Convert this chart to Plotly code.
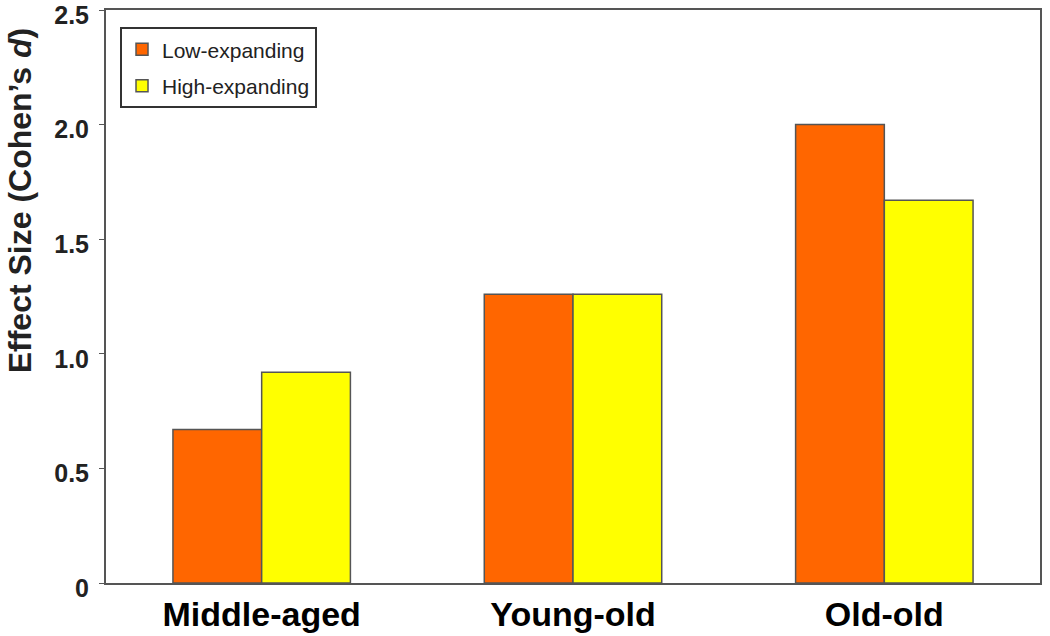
import plotly.graph_objects as go

categories = ["Middle-aged", "Young-old", "Old-old"]
low_expanding = [0.67, 1.26, 2.0]
high_expanding = [0.92, 1.26, 1.67]
y_ticks = [0, 0.5, 1.0, 1.5, 2.0, 2.5]
y_tick_labels = ["0", "0.5", "1.0", "1.5", "2.0", "2.5"]

fig = go.Figure()
fig.add_trace(go.Bar(x=categories, y=low_expanding, name="Low-expanding", legendgroup="a",
                     marker=dict(color="#FF6600", line=dict(color="#555555", width=1.5))))
fig.add_trace(go.Bar(x=categories, y=high_expanding, name="High-expanding", legendgroup="b",
                     marker=dict(color="#FFFF00", line=dict(color="#555555", width=1.5))))

fig.update_layout(
    width=1050, height=636,
    margin=dict(l=106, r=10, t=10, b=53),
    paper_bgcolor="white", plot_bgcolor="white",
    barmode="group", bargap=0.43, bargroupgap=0,
    font=dict(family="Arial, Liberation Sans, sans-serif", color="black"),
    legend=dict(x=0.015, y=0.97, xanchor="left", yanchor="top",
                bordercolor="#333333", borderwidth=2, bgcolor="white",
                font=dict(size=21, color="#222222"), tracegroupgap=6),
    xaxis=dict(showline=True, linecolor="#555555", linewidth=2, mirror=True,
               ticks="", tickfont=dict(size=34, color="black"),
               showgrid=False, automargin=False,
               tickvals=categories, ticktext=["<b>%s</b>" % c for c in categories]),
    yaxis=dict(range=[0, 2.5], tickvals=y_ticks, ticktext=["<b>%s</b>" % t for t in y_tick_labels],
               showline=True, linecolor="#555555", linewidth=2, mirror=True,
               ticks="outside", ticklen=5, tickcolor="#555555",
               tickfont=dict(size=25, color="#222222"), showgrid=False, zeroline=False,
               automargin=False, ticklabeloverflow="allow", ticklabelstandoff=5,
               ticklabelshift=5),
    annotations=[dict(text="<b>Effect Size (Cohen’s <i>d</i>)</b>", textangle=-90,
                      xref="paper", yref="paper", x=-0.092, y=0.668,
                      xanchor="center", yanchor="middle", showarrow=False,
                      font=dict(size=32, color="#222222"))],
)

fig.write_html("out.html", post_script="document.body.style.margin='0';",
               config={"displayModeBar": False})
